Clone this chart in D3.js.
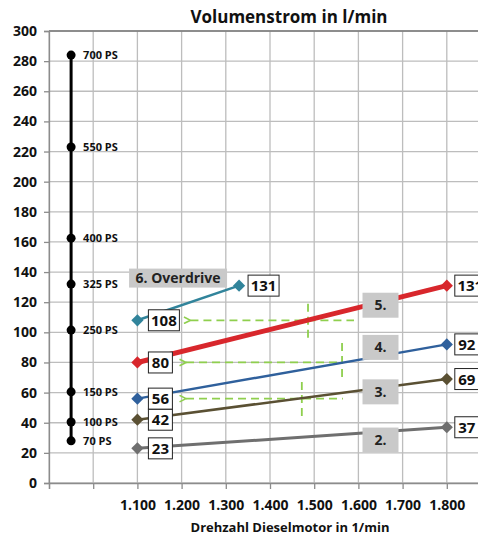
<!DOCTYPE html>
<html>
<head>
<meta charset="utf-8">
<script src="https://cdn.jsdelivr.net/npm/d3@7"></script>
<style>
 body { margin: 0; background: #fff; }
 text { font-family: "Open Sans", "DejaVu Sans", sans-serif; font-weight: bold; }
</style>
</head>
<body>
<div id="chart"></div>
<script>
var width = 478;
var height = 540;

// data
var rpm = [1.1, 1.8];
var gears = ["2.", "3.", "4.", "5."];
var gearValues = [[23, 37], [42, 69], [56, 92], [80, 131]];
var gearColors = ["#6f6f6f", "#5a5033", "#2f609c", "#d8272c"];
var gearWidths = [3, 2.5, 2.5, 5];
var gearLabelPos = [28.5, 60.5, 90, 118]; // value positions of the grey tags
var overdriveRpm = [1.1, 1.33];
var overdriveValues = [108, 131];
var psLabels = ["70 PS", "100 PS", "150 PS", "250 PS", "325 PS", "400 PS", "550 PS", "700 PS"];
var psValues = [28, 40.5, 60.5, 101.5, 132, 162.5, 223, 284];
var yTicks = [0, 20, 40, 60, 80, 100, 120, 140, 160, 180, 200, 220, 240, 260, 280, 300];
var xTicks = [0.9, 1.0, 1.1, 1.2, 1.3, 1.4, 1.5, 1.6, 1.7, 1.8, 1.9];
// green helper lines: [y, xStart, xEnd, xVertical, yTop, yBottom]
var helpers = [
  [108, 1.22, 1.59, 1.486, 119, 95.5],
  [80, 1.21, 1.565, 1.563, 93, 68.5],
  [56, 1.21, 1.565, 1.472, 67, 44]
];

var svg = d3.select("#chart")
  .append("svg")
  .attr("width", width)
  .attr("height", height);

var x = d3.scaleLinear().domain([0.9, 1.9]).range([49, 491]);
var y = d3.scaleLinear().domain([0, 300]).range([483, 31]);

// grid
svg.append("g").selectAll("line").data(yTicks).enter().append("line")
  .attr("x1", 49).attr("x2", 491)
  .attr("y1", d => y(d)).attr("y2", d => y(d))
  .style("stroke", "#bdbdbd").style("stroke-width", 1.3);
svg.append("g").selectAll("line").data(xTicks).enter().append("line")
  .attr("x1", d => x(d)).attr("x2", d => x(d))
  .attr("y1", 31).attr("y2", 483)
  .style("stroke", "#bdbdbd").style("stroke-width", 1.3);
// top border
svg.append("line").attr("x1", 49).attr("x2", 491).attr("y1", 31).attr("y2", 31)
  .style("stroke", "#777").style("stroke-width", 1.3);

// axes
var yAxis = svg.append("g")
  .attr("transform", "translate(49,0)")
  .call(d3.axisLeft(y).tickValues(yTicks).tickSize(5).tickPadding(7));
var xAxis = svg.append("g")
  .attr("transform", "translate(0,483)")
  .call(d3.axisBottom(x).tickValues(xTicks).tickSize(6).tickPadding(11)
    .tickFormat(d => (d >= 1.05 && d <= 1.85) ? d3.format(".3f")(d) : ""));
[yAxis, xAxis].forEach(function (a) {
  a.selectAll("path, line").style("stroke", "#8c8c8c").style("stroke-width", 1.3);
  a.selectAll("text").style("font-size", "14px").style("fill", "#111")
    .style("font-family", "'Open Sans', sans-serif").style("font-weight", "bold");
});

// titles
svg.append("text").attr("x", 289).attr("y", 23).attr("text-anchor", "middle")
  .style("font-size", "17px").style("fill", "#111").text("Volumenstrom in l/min");
svg.append("text").attr("x", 290).attr("y", 532).attr("text-anchor", "middle")
  .style("font-size", "13px").style("fill", "#111").text("Drehzahl Dieselmotor in 1/min");

// PS scale
svg.append("line")
  .attr("x1", x(0.95)).attr("x2", x(0.95))
  .attr("y1", y(d3.min(psValues))).attr("y2", y(d3.max(psValues)))
  .style("stroke", "#000").style("stroke-width", 3);
svg.append("g").selectAll("circle").data(psValues).enter().append("circle")
  .attr("cx", x(0.95)).attr("cy", d => y(d)).attr("r", 4.5).style("fill", "#000");
svg.append("g").selectAll("text").data(psValues).enter().append("text")
  .attr("x", x(0.95) + 12).attr("y", d => y(d) + 4)
  .style("font-size", "11px").style("fill", "#111")
  .text((d, i) => psLabels[i]);

// green dashed helper lines
svg.append("defs").append("marker")
  .attr("id", "arrow").attr("viewBox", "0 0 10 10")
  .attr("refX", 1).attr("refY", 5)
  .attr("markerWidth", 4.5).attr("markerHeight", 4.5)
  .attr("orient", "auto-start-reverse")
  .append("path").attr("d", "M9,1 L1,5 L9,9")
  .style("fill", "none").style("stroke", "#8fcf4e").style("stroke-width", 2);
var hg = svg.append("g");
helpers.forEach(function (h) {
  hg.append("line")
    .attr("x1", x(h[1])).attr("x2", x(h[2]))
    .attr("y1", y(h[0])).attr("y2", y(h[0]))
    .attr("marker-start", "url(#arrow)")
    .style("stroke", "#8fcf4e").style("stroke-width", 1.8).style("stroke-dasharray", "8,5");
  hg.append("line")
    .attr("x1", x(h[3])).attr("x2", x(h[3]))
    .attr("y1", y(h[4])).attr("y2", y(h[5]))
    .style("stroke", "#8fcf4e").style("stroke-width", 1.8).style("stroke-dasharray", "8,5");
});

// series lines
var line = d3.line().x(d => x(d[0])).y(d => y(d[1]));
var diamond = d3.symbol().type(d3.symbolDiamond2).size(95);

function drawSeries(xs, vals, color, w) {
  var pts = xs.map((v, i) => [v, vals[i]]);
  svg.append("path").datum(pts).attr("d", line)
    .style("fill", "none").style("stroke", color).style("stroke-width", w);
  svg.append("g").selectAll("path").data(pts).enter().append("path")
    .attr("d", diamond)
    .attr("transform", d => "translate(" + x(d[0]) + "," + y(d[1]) + ")")
    .style("fill", color);
}
gearValues.forEach(function (v, i) { drawSeries(rpm, v, gearColors[i], gearWidths[i]); });
drawSeries(overdriveRpm, overdriveValues, "#31849b", 2.5);

// value boxes
function valueBox(xv, val, dx) {
  var t = String(val);
  var w = t.length === 3 ? 31 : 24;
  var g = svg.append("g").attr("transform", "translate(" + (x(xv) + dx) + "," + y(val) + ")");
  g.append("rect").attr("x", 0).attr("y", -10.5).attr("width", w).attr("height", 21)
    .style("fill", "#fff").style("stroke", "#222").style("stroke-width", 1);
  g.append("text").attr("x", w / 2).attr("y", 5.5).attr("text-anchor", "middle")
    .style("font-size", "15px").style("fill", "#111").text(t);
}
gearValues.forEach(function (v) {
  valueBox(rpm[0], v[0], 11);
  valueBox(rpm[1], v[1], 8);
});
valueBox(overdriveRpm[0], overdriveValues[0], 11);
valueBox(overdriveRpm[1], overdriveValues[1], 9);

// grey tags
function tag(xc, yc, w, h, t) {
  svg.append("rect").attr("x", xc - w / 2).attr("y", yc - h / 2).attr("width", w).attr("height", h)
    .style("fill", "#c9c9c9");
  svg.append("text").attr("x", xc).attr("y", yc + 5).attr("text-anchor", "middle")
    .style("font-size", "14px").style("fill", "#222").text(t);
}
gears.forEach(function (g, i) { tag(x(1.65), y(gearLabelPos[i]), 36, 25, g); });
tag(x(1.192), y(136), 98, 19, "6. Overdrive");
</script>
</body>
</html>
